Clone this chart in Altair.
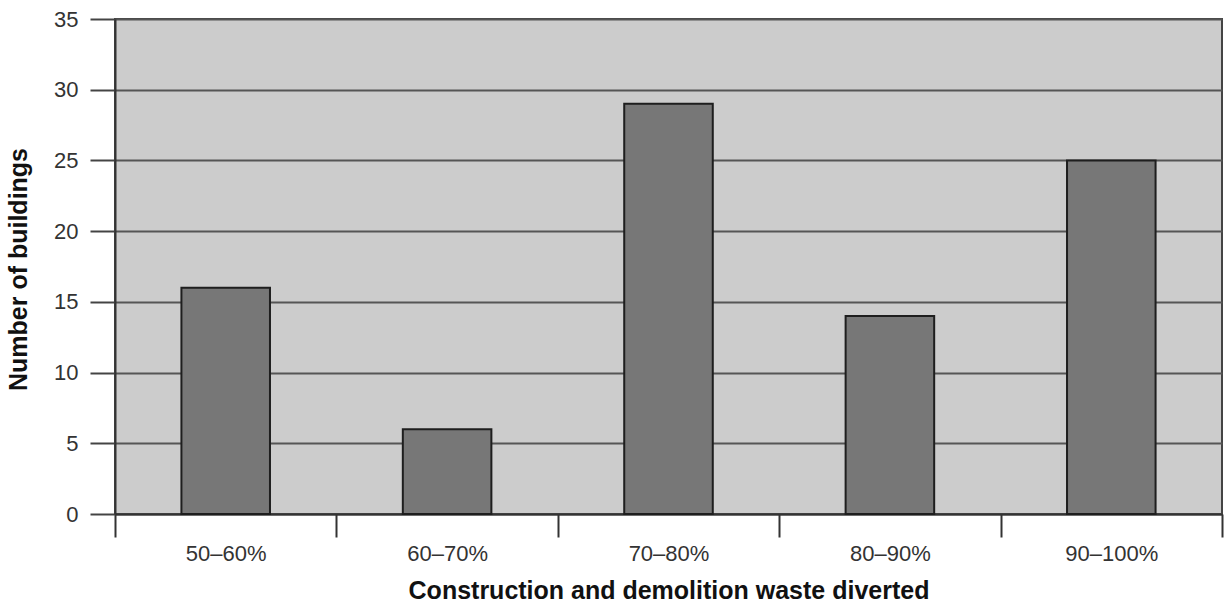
import altair as alt
import pandas as pd

# Share of construction and demolition waste diverted, binned
bins = ["50–60%", "60–70%", "70–80%", "80–90%", "90–100%"]
buildings = [16, 6, 29, 14, 25]
y_ticks = [0, 5, 10, 15, 20, 25, 30, 35]

df = pd.DataFrame({"range": bins, "count": buildings})

FONT = "Liberation Sans"

bars = alt.Chart(df).mark_bar(
    width=alt.RelativeBandSize(0.4),
    color="#777777",
    stroke="#1e1e1e",
    strokeWidth=2,
).encode(
    x=alt.X(
        "range:N",
        sort=bins,
        scale=alt.Scale(paddingInner=0, paddingOuter=0),
        axis=alt.Axis(
            title="Construction and demolition waste diverted",
            labelAngle=0,
            tickBand="extent",
            tickSize=23,
            tickWidth=2,
            tickColor="#333333",
            domainColor="#333333",
            domainWidth=2,
            labelPadding=6,
            labelFont=FONT,
            labelFontSize=22,
            labelColor="#333333",
            titleFont=FONT,
            titleFontSize=25,
            titleFontWeight="bold",
            titleColor="#111111",
            titlePadding=14,
        ),
    ),
    y=alt.Y(
        "count:Q",
        scale=alt.Scale(domain=[0, 35], nice=False),
        axis=alt.Axis(
            title="Number of buildings",
            values=y_ticks,
            grid=True,
            gridColor="#555555",
            gridWidth=2,
            tickSize=25,
            tickWidth=2,
            tickColor="#444444",
            domainColor="#333333",
            domainWidth=2,
            labelPadding=12,
            labelFont=FONT,
            labelFontSize=22,
            labelColor="#333333",
            titleFont=FONT,
            titleFontSize=25,
            titleFontWeight="bold",
            titleColor="#111111",
            titleX=-97,
            titleY=250,
            titleAngle=270,
            titleAlign="center",
            titleBaseline="middle",
        ),
    ),
).properties(
    width=1107,
    height=495,
    padding={"left": 115, "top": 19, "right": 2, "bottom": 91},
    autosize="none",
    background="white",
).configure_view(
    fill="#cccccc",
    stroke="#444444",
    strokeWidth=2,
)

chart = bars
chart.save("out.html", embed_options={"renderer": "svg", "actions": False})
